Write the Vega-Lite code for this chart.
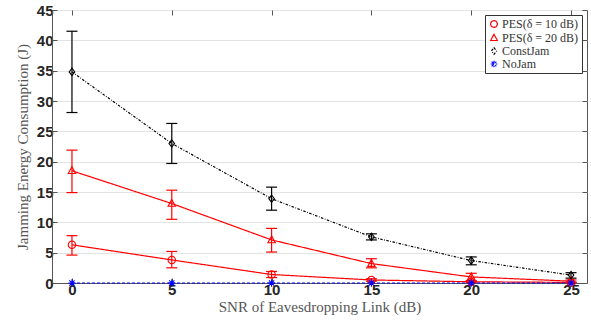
{
  "$schema": "https://vega.github.io/schema/vega-lite/v6.json",
  "width": 535,
  "height": 273,
  "autosize": {"type": "none"},
  "padding": {"left": 52, "top": 10, "right": 4, "bottom": 41},
  "background": "white",
  "config": {
    "view": {"stroke": "#555555", "strokeWidth": 1},
    "axis": {
      "labelFont": "Liberation Sans",
      "labelFontWeight": "bold",
      "labelFontSize": 15,
      "labelColor": "#262626",
      "titleFont": "Liberation Serif",
      "titleFontWeight": "normal",
      "titleFontSize": 15,
      "titleColor": "#555555",
      "domainColor": "#555555",
      "tickColor": "#555555",
      "gridColor": "#e3e3e3",
      "gridWidth": 1
    },
    "legend": {
      "labelFont": "Liberation Serif",
      "labelFontSize": 12,
      "labelColor": "#333333"
    }
  },
  "resolve": {"axis": {"x": "independent", "y": "independent"}},
  "data": {
    "values": [
      {"snr": 0, "series": "PES(δ = 10 dB)", "value": 6.3, "lo": 4.6, "hi": 7.8},
      {"snr": 5, "series": "PES(δ = 10 dB)", "value": 3.8, "lo": 2.5, "hi": 5.2},
      {"snr": 10, "series": "PES(δ = 10 dB)", "value": 1.4, "lo": 0.9, "hi": 1.9},
      {"snr": 15, "series": "PES(δ = 10 dB)", "value": 0.5, "lo": 0.3, "hi": 0.7},
      {"snr": 20, "series": "PES(δ = 10 dB)", "value": 0.2, "lo": 0.1, "hi": 0.3},
      {"snr": 25, "series": "PES(δ = 10 dB)", "value": 0.1, "lo": 0.05, "hi": 0.15},
      {"snr": 0, "series": "PES(δ = 20 dB)", "value": 18.5, "lo": 14.9, "hi": 21.9},
      {"snr": 5, "series": "PES(δ = 20 dB)", "value": 13.1, "lo": 10.5, "hi": 15.3},
      {"snr": 10, "series": "PES(δ = 20 dB)", "value": 7.1, "lo": 5.1, "hi": 9.0},
      {"snr": 15, "series": "PES(δ = 20 dB)", "value": 3.2, "lo": 2.5, "hi": 4.0},
      {"snr": 20, "series": "PES(δ = 20 dB)", "value": 1.0, "lo": 0.4, "hi": 1.6},
      {"snr": 25, "series": "PES(δ = 20 dB)", "value": 0.3, "lo": 0.1, "hi": 0.5},
      {"snr": 0, "series": "ConstJam", "value": 34.8, "lo": 28.1, "hi": 41.5},
      {"snr": 5, "series": "ConstJam", "value": 23.0, "lo": 19.7, "hi": 26.3},
      {"snr": 10, "series": "ConstJam", "value": 13.9, "lo": 12.0, "hi": 15.8},
      {"snr": 15, "series": "ConstJam", "value": 7.6, "lo": 7.1, "hi": 8.1},
      {"snr": 20, "series": "ConstJam", "value": 3.7, "lo": 3.0, "hi": 4.3},
      {"snr": 25, "series": "ConstJam", "value": 1.3, "lo": 0.8, "hi": 1.7},
      {"snr": 0, "series": "NoJam", "value": 0},
      {"snr": 5, "series": "NoJam", "value": 0},
      {"snr": 10, "series": "NoJam", "value": 0},
      {"snr": 15, "series": "NoJam", "value": 0},
      {"snr": 20, "series": "NoJam", "value": 0},
      {"snr": 25, "series": "NoJam", "value": 0}
    ]
  },
  "layer": [
    {
      "encoding": {
        "x": {
          "field": "snr", "type": "quantitative",
          "scale": {"domain": [-1, 25.8], "nice": false, "zero": false},
          "axis": {"values": [0, 5, 10, 15, 20, 25], "grid": false, "title": "SNR of Eavesdropping Link (dB)", "tickSize": -5, "labelPadding": 4, "titlePadding": 2}
        },
        "y": {
          "type": "quantitative",
          "scale": {"domain": [0, 45], "nice": false},
          "axis": {"values": [0, 5, 10, 15, 20, 25, 30, 35, 40, 45], "grid": true, "title": "Jamming Energy Consumption (J)", "tickSize": -5, "labelPadding": 4, "titlePadding": 6}
        },
        "color": {
          "field": "series", "type": "nominal",
          "scale": {
            "domain": ["PES(δ = 10 dB)", "PES(δ = 20 dB)", "ConstJam", "NoJam"],
            "range": ["#ff0000", "#ff0000", "#000000", "#0000ff"]
          },
          "legend": {
            "title": null,
            "orient": "top-right",
            "offset": 5,
            "strokeColor": "#333333",
            "fillColor": "white",
            "padding": 3,
            "rowPadding": 1,
            "labelOffset": 2,
            "symbolSize": 45,
            "symbolStrokeWidth": 1.1
          }
        }
      },
      "layer": [
        {
          "mark": {"type": "rule", "strokeWidth": 1.2},
          "encoding": {"y": {"field": "lo"}, "y2": {"field": "hi"}}
        },
        {
          "mark": {"type": "rule", "strokeWidth": 1.2, "xOffset": -5.5, "x2Offset": 5.5},
          "encoding": {"y": {"field": "lo"}, "x2": {"field": "snr"}}
        },
        {
          "mark": {"type": "rule", "strokeWidth": 1.2, "xOffset": -5.5, "x2Offset": 5.5},
          "encoding": {"y": {"field": "hi"}, "x2": {"field": "snr"}}
        },
        {
          "mark": {"type": "line"},
          "encoding": {
            "y": {"field": "value"},
            "strokeDash": {
              "field": "series", "type": "nominal",
              "scale": {"domain": ["PES(δ = 10 dB)", "PES(δ = 20 dB)", "ConstJam", "NoJam"], "range": [[1, 0], [1, 0], [2.5, 1.5, 0.8, 1.5], [3, 2]]},
              "legend": null
            },
            "strokeWidth": {
              "field": "series", "type": "nominal",
              "scale": {"domain": ["PES(δ = 10 dB)", "PES(δ = 20 dB)", "ConstJam", "NoJam"], "range": [1.2, 1.2, 0.8, 1.2]},
              "legend": null
            }
          }
        },
        {
          "mark": {"type": "point", "filled": false, "size": 55, "strokeWidth": 1.1, "opacity": 1},
          "encoding": {
            "y": {"field": "value"},
            "shape": {
              "field": "series", "type": "nominal",
              "scale": {
                "domain": ["PES(δ = 10 dB)", "PES(δ = 20 dB)", "ConstJam", "NoJam"],
                "range": ["circle", "M0,-1.1L1,0.75L-1,0.75Z", "M0,-1L0.75,0L0,1L-0.75,0Z", "M-1,0L1,0M0,-1L0,1M-0.7,-0.7L0.7,0.7M-0.7,0.7L0.7,-0.7"]
              }
            }
          }
        }
      ]
    },
    {
      "mark": {"type": "point", "opacity": 0},
      "encoding": {
        "x": {"field": "snr", "type": "quantitative", "axis": {"orient": "top", "values": [0, 5, 10, 15, 20, 25], "labels": false, "title": null, "grid": false, "domain": false, "tickSize": -5}},
        "y": {"field": "value", "type": "quantitative", "axis": {"orient": "right", "values": [0, 5, 10, 15, 20, 25, 30, 35, 40, 45], "labels": false, "title": null, "grid": false, "domain": false, "tickSize": -5}}
      }
    }
  ]
}
